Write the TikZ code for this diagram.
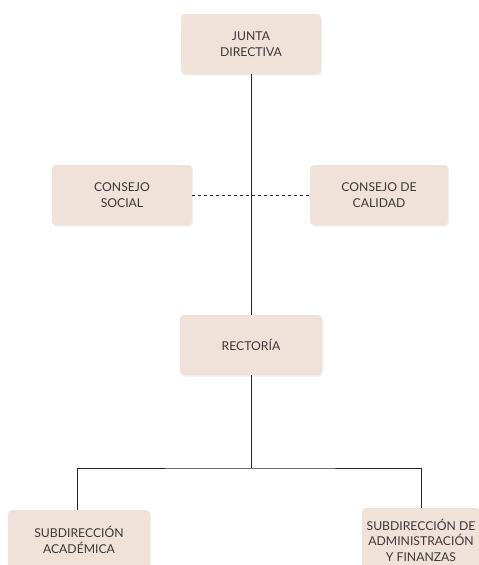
\documentclass[tikz,border=0pt]{standalone}
\usepackage{fontspec}
\setmainfont{Lato}
\usetikzlibrary{shadows}
\definecolor{boxfill}{RGB}{240,225,217}
\definecolor{boxtext}{RGB}{60,55,55}
\begin{document}
\begin{tikzpicture}[x=1pt, y=-1pt,
		unit/.style={rectangle, rounded corners=4pt, fill=boxfill, text=boxtext, align=center, minimum width=140pt, minimum height=60pt, font=\fontsize{12.2}{15.5}\selectfont, drop shadow={opacity=0.12, shadow xshift=1pt, shadow yshift=-1.5pt}},
		link/.style={draw=black!85, line width=0.8pt}]
		\clip (0,0) rectangle (479,565);
		\node[unit] (junta) at (251,44) {JUNTA\\DIRECTIVA};
		\node[unit] (social) at (122,195) {CONSEJO\\SOCIAL};
		\node[unit, minimum width=138pt] (calidad) at (379,195) {CONSEJO DE\\CALIDAD};
		\node[unit, minimum width=142pt] (rectoria) at (251,345) {RECTORÍA};
		\node[unit, minimum width=142pt] (academica) at (79,540) {SUBDIRECCIÓN\\ACADÉMICA};
		\node[unit, minimum width=118pt, minimum height=64pt] (admin) at (421,540) {SUBDIRECCIÓN DE\\ADMINISTRACIÓN\\Y FINANZAS};
		\coordinate (bus) at (251,468);
		\draw[link] (junta.south) -- (rectoria.north);
		\draw[link, line width=0.6pt, dashed] (social.east) -- (calidad.west);
		\draw[link] (rectoria.south) -- (bus);
		\draw[link] (academica.north -| 77,0) |- (bus) -| (admin.north);
	\end{tikzpicture}
\end{document}
